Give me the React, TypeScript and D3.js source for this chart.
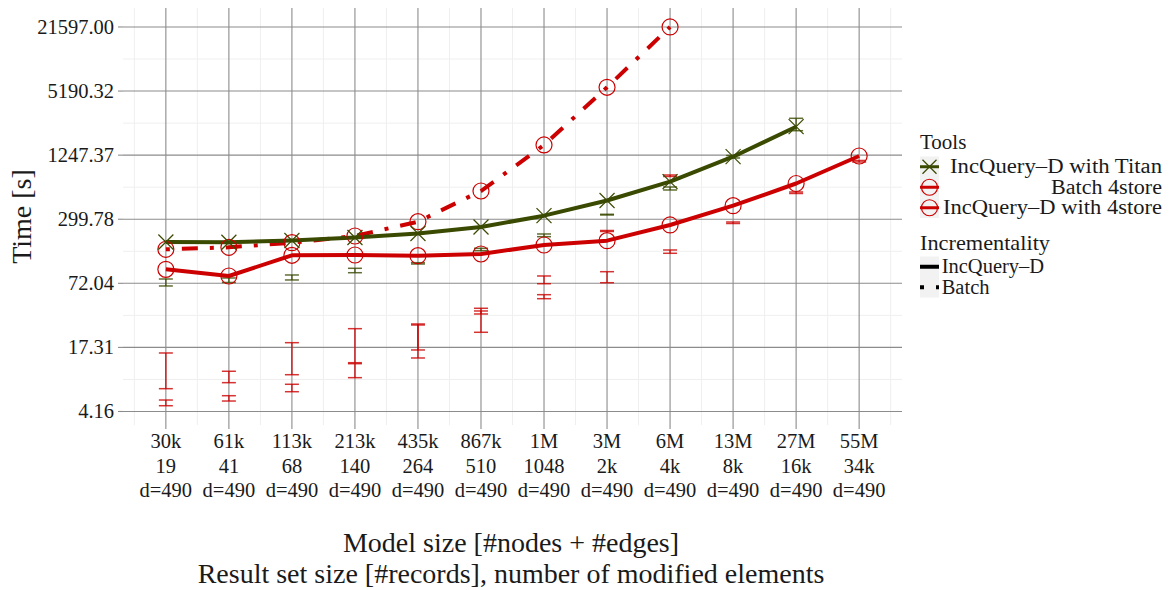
import * as d3 from 'd3';

// x categories: model size, result set size, modified elements
const modelSizes = ['30k', '61k', '113k', '213k', '435k', '867k', '1M', '3M', '6M', '13M', '27M', '55M'];
const resultSizes = ['19', '41', '68', '140', '264', '510', '1048', '2k', '4k', '8k', '16k', '34k'];
const modifiedLabels = ['d=490', 'd=490', 'd=490', 'd=490', 'd=490', 'd=490', 'd=490', 'd=490', 'd=490', 'd=490', 'd=490', 'd=490'];

// y axis breaks (log scale)
const yTicks = [4.16, 17.31, 72.04, 299.78, 1247.37, 5190.32, 21597.0];

// series times [s]
const titanTimes = [180.7, 179.5, 186.8, 199.7, 218.3, 252.2, 324.4, 454.8, 691.0, 1205, 2349];
const batch4storeTimes = [153.6, 160.6, 177.9, 206.4, 283.8, 561.8, 1564, 5645, 21597];
const incq4storeTimes = [98.4, 84.8, 134.4, 135.3, 133.2, 138.3, 169.0, 186.0, 263.8, 405.1, 663.9, 1224];

// error bar ranges [low, high]
const titanRanges = [
  [67.9, 79.3], [73.4, 81.1], [77.6, 86.7], [91.2, 100.6], [110.7, 114.0], [148.9, 157.0],
  [203.3, 215.9], [329.4, 334.6], [574.5, 614.2], [1171, 1237], [2149, 2831],
];
const redRangesA = [
  [6.91, 15.29], [7.9, 10.18], [9.43, 19.23], [12.32, 26.26], [16.35, 29.15], [24.23, 41.33],
  [71.4, 84.8], [228.2, 233.3], [775.8, 802], [272.6, 281.9], [531.5, 549.5], [1071, 1108],
];
const redRangesB = [
  [4.73, 5.37], [5.25, 5.91], [6.46, 7.62], [8.83, 12.05], [13.68, 28.5], [36.41, 38.93],
  [51.17, 55.94], [73.0, 93.3], [140.5, 151.2],
];

const GREEN = '#3a4a00';
const RED = '#cc0000';
const FONT = 'Liberation Serif, DejaVu Serif, serif';
const TEXT = '#1a1a1a';

const width = 1171;
const height = 590;
const panel = { left: 123, right: 902, top: 8, bottom: 425 };

const App = () => {
  const x = d3.scalePoint<string>().domain(modelSizes).range([panel.left, panel.right]).padding(0.68);
  const y = d3.scaleLog().domain([3.08, 32940]).range([panel.bottom, panel.top]);
  const step = x.step();

  const minorY = yTicks.slice(1).map((t, i) => Math.sqrt(t * yTicks[i]));
  const minorX = [...modelSizes.map(c => (x(c) as number) - step / 2), (x(modelSizes[modelSizes.length - 1]) as number) + step / 2];

  const line = d3.line<number>()
    .x((_, i) => x(modelSizes[i]) as number)
    .y(d => y(d));

  const errorBars = (ranges: number[][], color: string, key: string) =>
    ranges.map((r, i) => {
      const cx = x(modelSizes[i]) as number;
      const y0 = y(r[0]);
      const y1 = y(r[1]);
      return (
        <g key={`${key}${i}`} stroke={color} strokeWidth={1.5} strokeOpacity={0.8}>
          <line x1={cx} x2={cx} y1={y0} y2={y1} />
          <line x1={cx - 7} x2={cx + 7} y1={y0} y2={y0} />
          <line x1={cx - 7} x2={cx + 7} y1={y1} y2={y1} />
        </g>
      );
    });

  const cross = (cx: number, cy: number, key: string, s = 7.5) => (
    <g key={key} stroke={GREEN} strokeWidth={1.2}>
      <line x1={cx - s} x2={cx + s} y1={cy - s} y2={cy + s} />
      <line x1={cx - s} x2={cx + s} y1={cy + s} y2={cy - s} />
    </g>
  );

  const circle = (cx: number, cy: number, key: string) => (
    <circle key={key} cx={cx} cy={cy} r={8} fill="none" stroke={RED} strokeWidth={1.2} />
  );

  // legend labels are right-aligned like the original
  const tools = [
    { label: 'IncQuery–D with Titan', color: GREEN, shape: 'cross', len: 212 },
    { label: 'Batch 4store', color: RED, shape: 'circle', len: 111 },
    { label: 'IncQuery–D with 4store', color: RED, shape: 'circle', len: 219 },
  ];
  const incr = [
    { label: 'IncQuery–D', dash: null },
    { label: 'Batch', dash: '4 12 16 12' },
  ];

  return (
    <svg width={width} height={height} style={{ position: 'absolute', left: 0, top: 0, background: '#fff', fontFamily: FONT }}>
      {/* minor grid */}
      {minorY.map((t, i) => (
        <line key={`my${i}`} x1={panel.left} x2={panel.right} y1={y(t)} y2={y(t)} stroke="#efefef" strokeWidth={1} />
      ))}
      {minorX.map((v, i) => (
        <line key={`mx${i}`} x1={v} x2={v} y1={panel.top} y2={panel.bottom} stroke="#efefef" strokeWidth={1} />
      ))}
      {/* major grid */}
      {yTicks.map((t, i) => (
        <line key={`gy${i}`} x1={panel.left} x2={panel.right} y1={y(t)} y2={y(t)} stroke="#8c8c8c" strokeWidth={1.1} />
      ))}
      {modelSizes.map(c => (
        <line key={`gx${c}`} x1={x(c)} x2={x(c)} y1={panel.top} y2={panel.bottom} stroke="#8c8c8c" strokeWidth={1.1} />
      ))}

      {/* y axis */}
      {yTicks.map((t, i) => (
        <g key={`ty${i}`}>
          <line x1={118} x2={panel.left} y1={y(t)} y2={y(t)} stroke="#8c8c8c" strokeWidth={1.1} />
          <text x={114} y={y(t)} dy="0.34em" textAnchor="end" fontSize={20.5} fill={TEXT}>{t.toFixed(2)}</text>
        </g>
      ))}
      <text transform="translate(31,216.5) rotate(-90)" textAnchor="middle" fontSize={28} fill={TEXT}>Time [s]</text>

      {/* x axis */}
      {modelSizes.map((c, i) => (
        <g key={`tx${c}`}>
          <line x1={x(c)} x2={x(c)} y1={panel.bottom} y2={panel.bottom + 4} stroke="#8c8c8c" strokeWidth={1.1} />
          <text x={x(c)} y={448} textAnchor="middle" fontSize={20.5} fill={TEXT}>{c}</text>
          <text x={x(c)} y={473} textAnchor="middle" fontSize={20.5} fill={TEXT}>{resultSizes[i]}</text>
          <text x={x(c)} y={497} textAnchor="middle" fontSize={20.5} fill={TEXT}>{modifiedLabels[i]}</text>
        </g>
      ))}
      <text x={511} y={552} textAnchor="middle" fontSize={28} fill={TEXT}>Model size [#nodes + #edges]</text>
      <text x={511} y={583} textAnchor="middle" fontSize={28} fill={TEXT}>Result set size [#records], number of modified elements</text>

      {/* error bars */}
      {errorBars(redRangesA, RED, 'ra')}
      {errorBars(redRangesB, RED, 'rb')}
      {errorBars(titanRanges, GREEN, 'ga')}

      {/* lines */}
      <path d={line(batch4storeTimes) ?? ''} fill="none" stroke={RED} strokeWidth={4} strokeDasharray="4 12 16 12" />
      <path d={line(incq4storeTimes) ?? ''} fill="none" stroke={RED} strokeWidth={4} strokeLinejoin="round" />
      <path d={line(titanTimes) ?? ''} fill="none" stroke={GREEN} strokeWidth={4} strokeLinejoin="round" />

      {/* points */}
      {batch4storeTimes.map((v, i) => circle(x(modelSizes[i]) as number, y(v), `pb${i}`))}
      {incq4storeTimes.map((v, i) => circle(x(modelSizes[i]) as number, y(v), `pi${i}`))}
      {titanTimes.map((v, i) => cross(x(modelSizes[i]) as number, y(v), `pt${i}`))}

      {/* legend: Tools */}
      <text x={920} y={149.3} fontSize={21} fill={TEXT}>Tools</text>
      {tools.map((t, i) => {
        const top = 156.5 + i * 20.5;
        const cy = top + 10.25;
        return (
          <g key={`lt${i}`}>
            <rect x={920} y={top} width={19} height={20.5} fill="#f2f2f2" />
            <line x1={920} x2={939} y1={cy} y2={cy} stroke={t.color} strokeWidth={3} />
            {t.shape === 'cross'
              ? cross(929.5, cy, `lc${i}`, 7)
              : <circle cx={929.5} cy={cy} r={8} fill="none" stroke={RED} strokeWidth={1.2} />}
            <text x={1162} y={top + 16.5} textAnchor="end" fontSize={20.5} textLength={t.len} lengthAdjust="spacingAndGlyphs" fill={TEXT}>{t.label}</text>
          </g>
        );
      })}

      {/* legend: Incrementality */}
      <text x={920} y={250} fontSize={21} textLength={130} lengthAdjust="spacingAndGlyphs" fill={TEXT}>Incrementality</text>
      {incr.map((t, i) => {
        const top = 256.5 + i * 20.5;
        const cy = top + 10.25;
        return (
          <g key={`li${i}`}>
            <rect x={920} y={top} width={19} height={20.5} fill="#f2f2f2" />
            <line x1={920} x2={939} y1={cy} y2={cy} stroke="#000" strokeWidth={4} strokeDasharray={t.dash ?? undefined} />
            <text x={941.7} y={top + 16.5} fontSize={20.5} fill={TEXT}>{t.label}</text>
          </g>
        );
      })}
    </svg>
  );
};

export default App;
